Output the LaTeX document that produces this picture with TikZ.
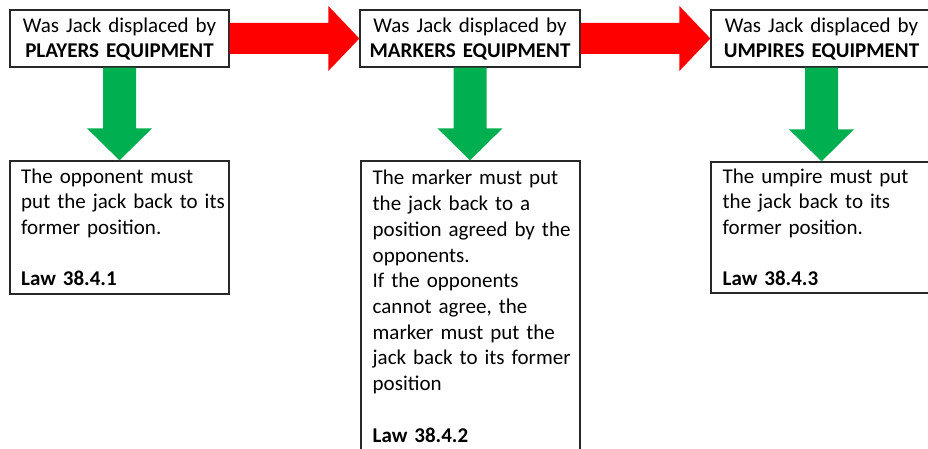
\documentclass[tikz,border=0pt]{standalone}
\usepackage{fontspec}
\setmainfont{Carlito}
\usetikzlibrary{calc}
\definecolor{offgreen}{RGB}{0,176,80}
\definecolor{offred}{RGB}{255,0,0}
\definecolor{boxline}{RGB}{40,40,40}
\tikzset{
  box/.style={draw=boxline, line width=1.3pt, fill=white, inner sep=0pt},
  headtxt/.style={inner sep=0pt, text width=230pt, align=center, font=\fontsize{21}{25}\selectfont},
  bodytxt/.style={inner sep=0pt, text width=215pt, align=left, font=\fontsize{21}{25.7}\selectfont},
  redarrow/.style={fill=offred},
  greenarrow/.style={fill=offgreen}
}
\newcommand{\rightfat}[2]{%
  \fill[redarrow] let \p1=(#1.east), \p2=(#2.west) in
    (\x1,\y1+15.5pt) -- (\x2-31pt,\y1+15.5pt) -- (\x2-31pt,\y1+32.5pt) -- (\x2,\y1)
    -- (\x2-31pt,\y1-32.5pt) -- (\x2-31pt,\y1-15.5pt) -- (\x1,\y1-15.5pt) -- cycle;}
\newcommand{\downfat}[2]{%
  \fill[greenarrow] let \p1=(#1.south), \p2=(#2.north) in
    (\x1-16.5pt,\y1) -- (\x1-16.5pt,\y2+32pt) -- (\x1-32.5pt,\y2+32pt) -- (\x1,\y2)
    -- (\x1+32.5pt,\y2+32pt) -- (\x1+16.5pt,\y2+32pt) -- (\x1+16.5pt,\y1) -- cycle;}
\begin{document}
\begin{tikzpicture}[x=1pt,y=-1pt]
\useasboundingbox (0,0) rectangle (928,449);
\clip (0,0) rectangle (928,449);
\fill[white] (0,0) rectangle (928,449);
% top boxes
\node[box, minimum width=219pt, minimum height=57pt] (t1) at (119.5,38.5) {};
\node[box, minimum width=220pt, minimum height=57pt] (t2) at (470,38.5) {};
\node[box, minimum width=221pt, minimum height=57pt] (t3) at (821.5,38.5) {};
% bottom boxes
\node[box, minimum width=219pt, minimum height=133pt] (b1) at (119.5,227.5) {};
\node[box, minimum width=219pt, minimum height=310pt] (b2) at (470.5,316) {};
\node[box, minimum width=221pt, minimum height=131pt] (b3) at (821.5,227.5) {};
% arrows
\rightfat{t1}{t2}
\rightfat{t2}{t3}
\downfat{t1}{b1}
\downfat{t2}{b2}
\downfat{t3}{b3}
% texts
\node[headtxt, anchor=base] (h1) at (119.5,32.5) {Was Jack displaced by\\\textbf{PLAYERS EQUIPMENT}};
\node[headtxt, anchor=base] (h2) at (470,32.5) {Was Jack displaced by\\\textbf{MARKERS EQUIPMENT}};
\node[headtxt, anchor=base] (h3) at (821.5,32.5) {Was Jack displaced by\\\textbf{UMPIRES EQUIPMENT}};
\node[bodytxt, anchor=base west] (x1) at (21,183) {The opponent must\\put the jack back to its\\former position.\\[25.7pt]\textbf{Law 38.4.1}};
\node[bodytxt, anchor=base west] (x2) at (372.5,185) {The marker must put\\the jack back to a\\position agreed by the\\opponents.\\If the opponents\\cannot agree, the\\marker must put the\\jack back to its former\\position\\[25.7pt]\textbf{Law 38.4.2}};
\node[bodytxt, anchor=base west] (x3) at (722.5,183) {The umpire must put\\the jack back to its\\former position.\\[25.7pt]\textbf{Law 38.4.3}};
\end{tikzpicture}
\end{document}
